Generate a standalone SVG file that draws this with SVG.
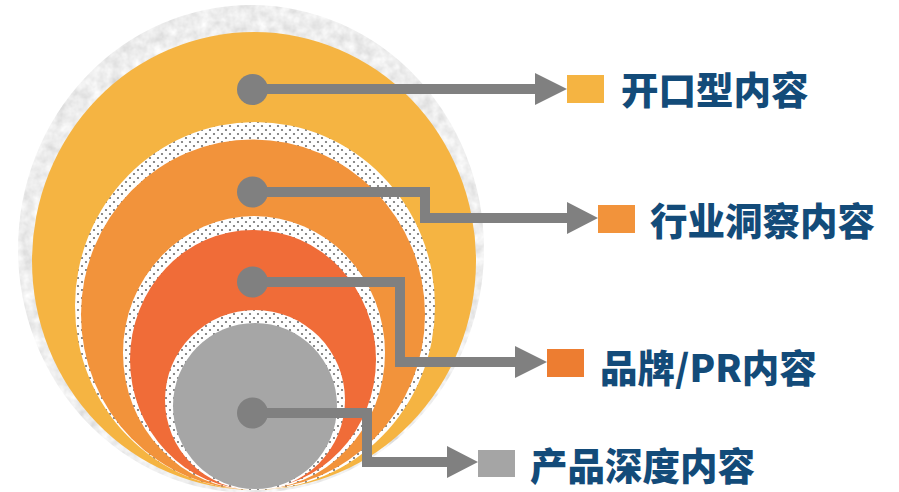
<svg xmlns="http://www.w3.org/2000/svg" width="899" height="492" viewBox="0 0 899 492">
  <style>
    .lbl { font-family: "Noto Sans CJK SC", "Noto Sans", sans-serif; font-weight: 900; font-size: 37.5px; fill: #134B79; }
    .conn { fill: none; stroke: #808080; stroke-width: 10; stroke-linejoin: miter; stroke-linecap: butt; }
    .head { fill: #808080; }
    .dot { fill: #808080; }
    .dotted { fill: url(#dots); }
  </style>
  <defs>
    <pattern id="dots" width="8" height="8" patternUnits="userSpaceOnUse">
      <rect width="8" height="8" fill="#ffffff"/>
      <circle cx="2" cy="2" r="1.1" fill="#6f6f6f"/>
      <circle cx="6" cy="6" r="1.1" fill="#6f6f6f"/>
    </pattern>
    <filter id="tex" x="0" y="0" width="1" height="1">
      <feTurbulence type="fractalNoise" baseFrequency="0.09" numOctaves="3" seed="4" result="n"/>
      <feColorMatrix in="n" type="matrix" values="0.4 0 0 0 0.65  0.4 0 0 0 0.65  0.4 0 0 0 0.65  0 0 0 0 1" result="g"/>
      <feComposite in="g" in2="SourceGraphic" operator="in"/>
    </filter>
  </defs>
  <rect width="899" height="492" fill="#ffffff"/>

  <g id="outer-ring">
    <ellipse cx="251" cy="249" rx="233" ry="244" fill="#e4e4e4" filter="url(#tex)"/>
  </g>
  <g id="layer-1">
    <ellipse cx="254" cy="261" rx="222" ry="229" fill="#F5B442"/>
  </g>
  <g id="layer-2">
    <ellipse class="dotted" cx="255" cy="306" rx="180" ry="184"/>
    <ellipse cx="253" cy="314.5" rx="172" ry="175" fill="#F2933B"/>
  </g>
  <g id="layer-3">
    <ellipse class="dotted" cx="254" cy="353" rx="131" ry="137"/>
    <ellipse cx="253" cy="359.5" rx="123" ry="129.5" fill="#F06C38"/>
  </g>
  <g id="layer-4">
    <ellipse class="dotted" cx="255" cy="400" rx="90" ry="90"/>
    <ellipse cx="255" cy="406" rx="82" ry="83" fill="#A6A6A6"/>
  </g>

  <g id="connectors">
    <polyline class="conn" points="252,89 536,89"/>
    <polygon class="head" points="535,73 567,89 535,105"/>
    <polyline class="conn" points="252,192 425,192 425,218 568,218"/>
    <polygon class="head" points="567,202 598,218 567,234"/>
    <polyline class="conn" points="252,282 400,282 400,362 516,362"/>
    <polygon class="head" points="515,346 547,362 515,378"/>
    <polyline class="conn" points="252,413 367,413 367,462 448,462"/>
    <polygon class="head" points="447,446 478,462 447,478"/>
    <circle class="dot" cx="252.5" cy="89.5" r="15.5"/>
    <circle class="dot" cx="252.5" cy="192" r="15.5"/>
    <circle class="dot" cx="252.5" cy="282" r="15.5"/>
    <circle class="dot" cx="252.5" cy="413" r="15.5"/>
  </g>

  <g id="label-1">
    <rect x="567" y="75" width="37" height="28" fill="#F5B442"/>
    <text class="lbl" x="621" y="104">开口型内容</text>
  </g>
  <g id="label-2">
    <rect x="598" y="205" width="37" height="28" fill="#F2933B"/>
    <text class="lbl" x="650" y="235">行业洞察内容</text>
  </g>
  <g id="label-3">
    <rect x="547" y="349" width="37" height="28" fill="#ED7D31"/>
    <text class="lbl" x="600" y="382">品牌/PR内容</text>
  </g>
  <g id="label-4">
    <rect x="478" y="450" width="37" height="27" fill="#A5A5A5"/>
    <text class="lbl" x="530" y="480">产品深度内容</text>
  </g>
</svg>
